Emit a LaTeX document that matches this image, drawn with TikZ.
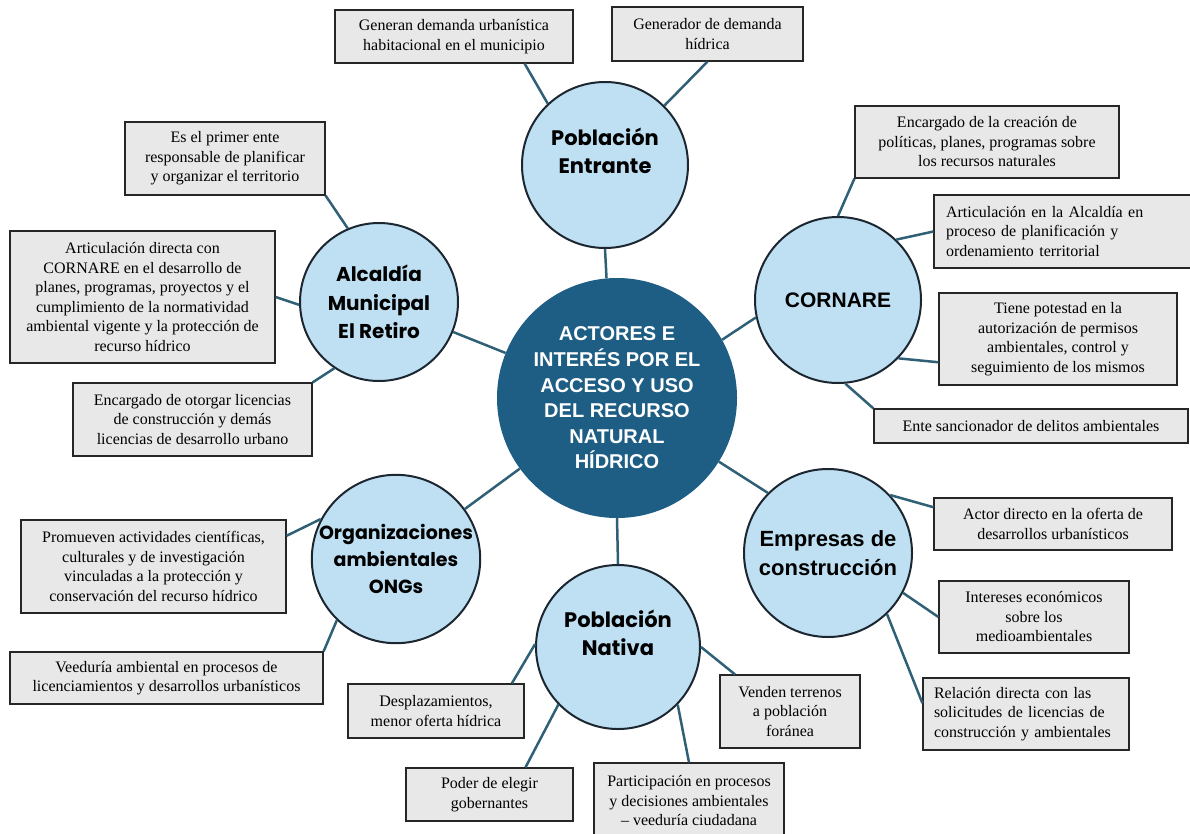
\documentclass[tikz,border=0pt]{standalone}
\usepackage{fontspec}
\setmainfont{Liberation Serif}
\newfontfamily\circfont{Poppins}
\newfontfamily\arialfont{Liberation Sans}
\definecolor{circblue}{RGB}{190,224,242}
\definecolor{hubblue}{RGB}{30,94,132}
\definecolor{linkteal}{RGB}{47,96,118}
\definecolor{boxgray}{RGB}{232,232,232}
\definecolor{ringdark}{RGB}{28,38,48}

\begin{document}
\begin{tikzpicture}[x=1pt,y=-1pt,
    hub/.style={circle,fill=hubblue,minimum size=240pt,inner sep=0pt,text=white,align=center,
      font=\arialfont\bfseries\fontsize{20}{25.6}\selectfont},
    actor/.style={circle,draw=ringdark,line width=2pt,fill=circblue,inner sep=0pt,align=center,
      font=\circfont\bfseries\fontsize{21}{28.5}\selectfont},
    note/.style={draw=black!85,line width=1.2pt,fill=boxgray,inner sep=0pt,align=center,
      font=\fontsize{16}{19.5}\selectfont},
    link/.style={draw=linkteal,line width=2.5pt}]
      \useasboundingbox (0,0) rectangle (1190,833);
      \node[hub] (hub) at (617,398) {ACTORES E\\INTERÉS POR EL\\ACCESO Y USO\\DEL RECURSO\\NATURAL\\HÍDRICO};
      \node[actor,minimum size=166pt] (ent) at (605,165) {Población\\Entrante\\\mbox{}};
      \node[actor,minimum size=158pt,font=\circfont\bfseries\fontsize{20}{28.5}\selectfont] (alc) at (379,302) {Alcaldía\\Municipal\\El Retiro};
      \node[actor,minimum size=166pt,font=\arialfont\bfseries\fontsize{21}{28.5}\selectfont] (cor) at (838,300) {CORNARE};
      \node[actor,minimum size=166pt,font=\circfont\bfseries\fontsize{19}{27}\selectfont] (ong) at (396,559) {Organizaciones\\ambientales\\ONGs};
      \node[actor,minimum size=168pt,font=\arialfont\bfseries\fontsize{22}{29}\selectfont] (emp) at (828,553) {Empresas de\\construcción};
      \node[actor,minimum size=164pt] (nat) at (618,647) {Población\\Nativa\\\mbox{}};

      \node[note,minimum width=238pt,minimum height=53pt] (ent1) at (454,36.5) {Generan demanda urbanística\\habitacional en el municipio};
      \node[note,minimum width=191pt,minimum height=54pt] (ent2) at (707.5,34) {Generador de demanda\\hídrica};
      \node[note,minimum width=200pt,minimum height=73pt] (alc1) at (225,158.5) {Es el primer ente\\responsable de planificar\\y organizar el territorio};
      \node[note,minimum width=265pt,minimum height=132pt] (alc2) at (142.5,297) {Articulación directa con\\CORNARE en el desarrollo de\\planes, programas, proyectos y el\\cumplimiento de la normatividad\\ambiental vigente y la protección de\\recurso hídrico};
      \node[note,minimum width=239pt,minimum height=73pt] (alc3) at (192.5,419.5) {Encargado de otorgar licencias\\de construcción y demás\\licencias de desarrollo urbano};
      \node[note,minimum width=264pt,minimum height=72pt] (cor1) at (987,142) {Encargado de la creación de\\políticas, planes, programas sobre\\los recursos naturales};
      \node[note,minimum width=258pt,minimum height=73pt,text width=234pt,align=left] (cor2) at (1063,231.5) {Articulación en la Alcaldía en\\proceso de planificación y\\ordenamiento territorial};
      \node[note,minimum width=238pt,minimum height=92pt] (cor3) at (1058,339) {Tiene potestad en la\\autorización de permisos\\ambientales, control y\\seguimiento de los mismos};
      \node[note,minimum width=314pt,minimum height=34pt] (cor4) at (1031,426) {Ente sancionador de delitos ambientales};
      \node[note,minimum width=265pt,minimum height=93pt] (ong1) at (153.5,566.5) {Promueven actividades científicas,\\culturales y de investigación\\vinculadas a la protección y\\conservación del recurso hídrico};
      \node[note,minimum width=313pt,minimum height=52pt] (ong2) at (166.5,678) {Veeduría ambiental en procesos de\\licenciamientos y desarrollos urbanísticos};
      \node[note,minimum width=176pt,minimum height=54pt] (nat1) at (436,711) {Desplazamientos,\\menor oferta hídrica};
      \node[note,minimum width=167pt,minimum height=53pt] (nat2) at (489.5,794.5) {Poder de elegir\\gobernantes};
      \node[note,minimum width=190pt,minimum height=76pt] (nat3) at (689,801) {Participación en procesos\\y decisiones ambientales\\– veeduría ciudadana};
      \node[note,minimum width=140pt,minimum height=73pt] (nat4) at (790,711.5) {Venden terrenos\\a población\\foránea};
      \node[note,minimum width=238pt,minimum height=52pt] (emp1) at (1053,524) {Actor directo en la oferta de\\desarrollos urbanísticos};
      \node[note,minimum width=190pt,minimum height=72pt] (emp2) at (1034,617) {Intereses económicos\\sobre los\\medioambientales};
      \node[note,minimum width=206pt,minimum height=72pt,text width=184pt,align=left] (emp3) at (1026,714) {Relación directa con las\\solicitudes de licencias de\\construcción y ambientales};

      \draw[link] (hub.95) -- (ent.south);
      \draw[link] (hub.158) -- (alc.338);
      \draw[link] (hub.29) -- (cor.192);
      \draw[link] (hub.216) -- (ong.36);
      \draw[link] (hub.-32) -- (emp.135);
      \draw[link] (hub.south) -- (nat.north);
      \draw[link] (ent1.-21) -- (ent.133);
      \draw[link] (ent2.south) -- (ent.45);
      \draw[link] (alc1.south east) -- (alc.113);
      \draw[link] (alc2.east) -- (alc.182);
      \draw[link] (alc3.north east) -- (alc.236);
      \draw[link] (cor1.south west) -- (cor.north);
      \draw[link] (cor2.west) -- (cor.46);
      \draw[link] (cor3.191) -- (cor.-44);
      \draw[link] (cor4.north west) -- (cor.-85);
      \draw[link] (ong1.13) -- (ong.152);
      \draw[link] (ong2.north east) -- (ong.226);
      \draw[link] (nat1.20) -- (nat.178);
      \draw[link] (nat2.37) -- (nat.224);
      \draw[link] (nat3.north) -- (nat.-44);
      \draw[link] (nat4.146) -- (nat.east);
      \draw[link] (emp1.172) -- (emp.43);
      \draw[link] (emp2.west) -- (emp.-28);
      \draw[link] (emp3.174) -- (emp.-46);
    \end{tikzpicture}
\end{document}
